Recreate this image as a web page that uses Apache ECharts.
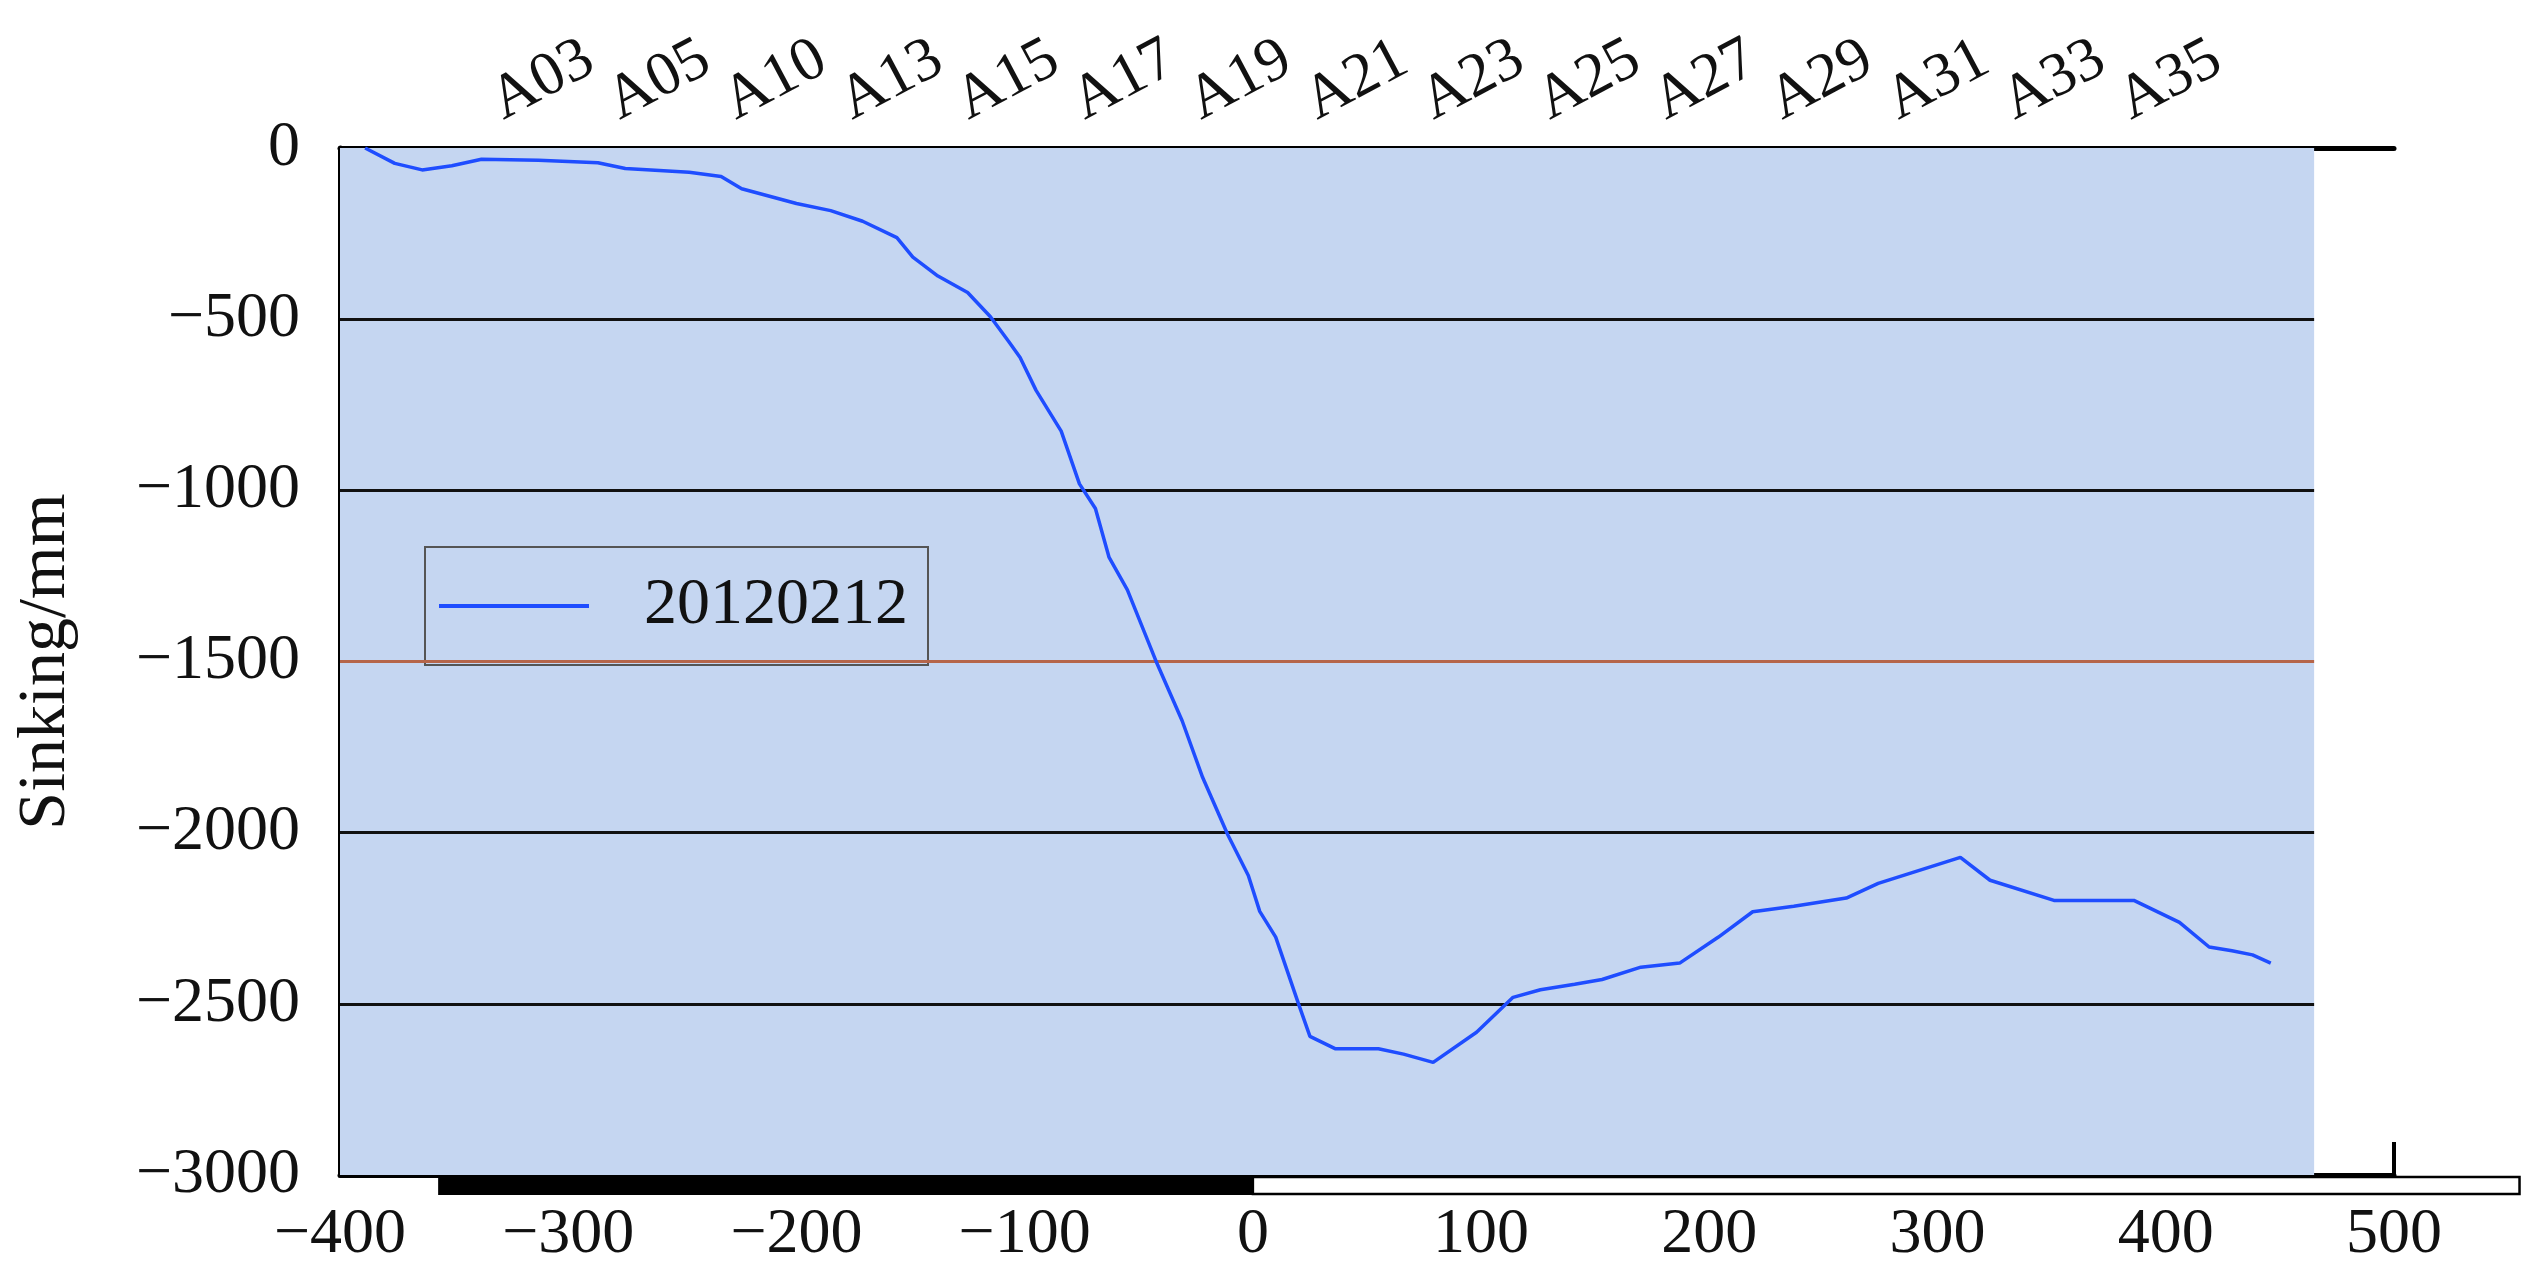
<!DOCTYPE html>
<html><head><meta charset="utf-8">
<script src="https://cdn.jsdelivr.net/npm/echarts@6/dist/echarts.min.js"></script>
<style>html,body{margin:0;padding:0;background:#fff}#c{width:2531px;height:1267px}</style>
</head><body><div id="c"></div>
<script>
const seriesName = '20120212';
const xs = [-389,-376,-364,-351,-338,-313,-287,-275,-247,-233,-224,-200,-185,-171,-156,-149,-138,-125,-115,-107,-102,-95,-84,-76,-69,-63,-55,-42,-31,-22,-11,-2,3,10,20,25,36,55,66,79,98,114,126,141,153,170,187,204,219,237,260,274,310,323,351,386,406,419,429,438,446];
const ys = [0,-45,-64,-52,-33,-36,-43,-60,-71,-83,-119,-162,-183,-214,-262,-319,-374,-422,-493,-565,-612,-708,-827,-981,-1053,-1196,-1291,-1506,-1673,-1839,-2006,-2125,-2230,-2305,-2500,-2595,-2631,-2631,-2647,-2671,-2583,-2481,-2459,-2443,-2429,-2393,-2381,-2305,-2231,-2215,-2191,-2148,-2072,-2139,-2198,-2198,-2262,-2334,-2345,-2357,-2381];
const topLabels = ['A01','A03','A05','A10','A13','A15','A17','A19','A21','A23','A25','A27','A29','A31','A33','A35','A37'];
const topCats = [];
topLabels.forEach((l,i)=>{topCats.push(l); if(i<topLabels.length-1) topCats.push('');});
topCats.push('');
const gridLines = [-500,-1000,-2000,-2500];
const redLine = -1500;
const bgRange = [-400,465];
const barBlack = [-357,0];
const barWhite = [0,555];

const F = 'Liberation Serif';
const minus = v => String(v).replace('-', '\u2212');
const chart = echarts.init(document.getElementById('c'));
const mlData = gridLines.map(v=>[{coord:[bgRange[0],v],lineStyle:{color:'#111',width:3,type:'solid'}},{coord:[bgRange[1],v]}]);
mlData.push([{coord:[bgRange[0],redLine],lineStyle:{color:'#b5654a',width:3,type:'solid'}},{coord:[bgRange[1],redLine]}]);
chart.setOption({
  animation:false,
  grid:[{left:340,right:137,top:148,bottom:75},{left:394,width:1918,top:181,height:10}],
  legend:{left:425,top:547,width:501,height:106,padding:[26,20,26,14],itemWidth:150,itemHeight:4,itemGap:10,
    borderColor:'#555',borderWidth:2,textStyle:{fontFamily:F,fontSize:66,color:'#111',padding:[0,0,0,50]},
    icon:'rect',data:[seriesName]},
  xAxis:[
    {type:'value',gridIndex:0,min:-400,max:500,interval:100,position:'bottom',
     axisLine:{show:true,onZero:false,lineStyle:{color:'#000',width:5}},splitLine:{show:false},
     axisTick:{show:true,inside:true,length:33,lineStyle:{color:'#000',width:4}},
     axisLabel:{fontFamily:F,fontSize:64,color:'#111',margin:28,formatter:minus}},
    {type:'category',gridIndex:1,data:topCats,boundaryGap:false,position:'top',
     axisLine:{show:false},splitLine:{show:false},
     axisTick:{show:true,inside:false,length:33,interval:0,lineStyle:{color:'#000',width:4}},
     axisLabel:{interval:1,rotate:28,fontFamily:F,fontSize:62,color:'#111',margin:48,align:'left',verticalAlign:'bottom'}},
    {type:'value',gridIndex:0,min:-400,max:500,position:'top',
     axisLine:{show:true,onZero:false,lineStyle:{color:'#000',width:5}},axisTick:{show:false},axisLabel:{show:false},splitLine:{show:false}}
  ],
  yAxis:[
    {type:'value',gridIndex:0,min:-3000,max:0,interval:500,
     axisLine:{show:true,onZero:false,lineStyle:{color:'#000',width:5}},splitLine:{show:false},
     axisTick:{show:true,inside:true,length:24,lineStyle:{color:'#000',width:3}},
     axisLabel:{fontFamily:F,fontSize:64,color:'#111',margin:40,formatter:minus},
     name:'Sinking/mm',nameLocation:'middle',nameGap:260,nameTextStyle:{fontFamily:F,fontSize:68,color:'#111'}},
    {type:'value',gridIndex:1,min:0,max:1,show:false}
  ],
  series:[{
    name:seriesName,type:'line',xAxisIndex:0,yAxisIndex:0,showSymbol:false,
    data:xs.map((x,i)=>[x,ys[i]]),lineStyle:{color:'#1f4dff',width:3.5},itemStyle:{color:'#1f4dff'},z:5,
    markArea:{silent:true,itemStyle:{color:'#c5d6f1'},data:[[{coord:[bgRange[0],0]},{coord:[bgRange[1],-3000]}]]},
    markLine:{silent:true,symbol:'none',label:{show:false},data:mlData}
  }]
});
const p = (x,y)=>chart.convertToPixel({xAxisIndex:0,yAxisIndex:0},[x,y]);
const a0=p(barBlack[0],-3000), a1=p(barBlack[1],-3000), b1=p(barWhite[1],-3000);
chart.setOption({graphic:[
  {type:'rect',shape:{x:a0[0],y:a0[1],width:a1[0]-a0[0],height:20},style:{fill:'#000'},z:10},
  {type:'rect',shape:{x:a1[0],y:a1[1]+2,width:b1[0]-a1[0],height:17},style:{fill:'#fff',stroke:'#000',lineWidth:2.5},z:10}
]});
</script></body></html>
